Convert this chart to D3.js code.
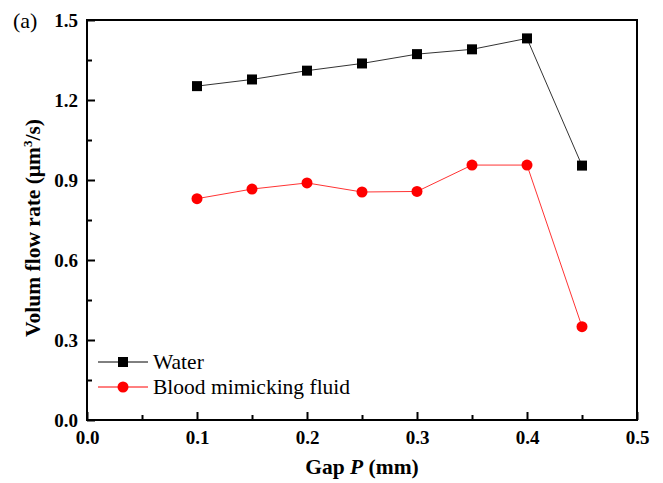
<!DOCTYPE html>
<html>
<head>
<meta charset="utf-8">
<script src="https://cdn.jsdelivr.net/npm/d3@7"></script>
<style>
  body { margin: 0; background: #fff; }
</style>
</head>
<body>
<svg id="chart" width="663" height="483"></svg>
<script>
// ── Data ─────────────────────────────────────────────────────────────
const gap   = [0.10, 0.15, 0.20, 0.25, 0.30, 0.35, 0.40, 0.45];
const water = [1.252, 1.277, 1.310, 1.337, 1.372, 1.390, 1.431, 0.954];
const blood = [0.830, 0.866, 0.889, 0.855, 0.857, 0.956, 0.956, 0.350];
const xTicks = [0.0, 0.1, 0.2, 0.3, 0.4, 0.5];
const yTicks = [0.0, 0.3, 0.6, 0.9, 1.2, 1.5];

const FONT = '"Times New Roman", "Liberation Serif", "DejaVu Serif", serif';

const svg = d3.select('#chart').attr('font-family', FONT);
const L = 87, R = 637, T = 20, B = 420;

const x = d3.scaleLinear().domain([0, 0.5]).range([L, R]);
const y = d3.scaleLinear().domain([0, 1.5]).range([B, T]);

// ── Axes (ticks inward) ──────────────────────────────────────────────
const xAxis = svg.append('g').attr('transform', `translate(0,${B})`)
  .call(d3.axisBottom(x).tickValues(xTicks).tickFormat(d3.format('.1f'))
    .tickSizeInner(-8).tickSizeOuter(0).tickPadding(11));
const xMinor = svg.append('g').attr('transform', `translate(0,${B})`)
  .call(d3.axisBottom(x).tickValues([0.05, 0.15, 0.25, 0.35, 0.45])
    .tickFormat('').tickSizeInner(-5).tickSizeOuter(0));

const yAxis = svg.append('g').attr('transform', `translate(${L},0)`)
  .call(d3.axisLeft(y).tickValues(yTicks).tickFormat(d3.format('.1f'))
    .tickSizeInner(-8).tickSizeOuter(0).tickPadding(9));
const yMinor = svg.append('g').attr('transform', `translate(${L},0)`)
  .call(d3.axisLeft(y).tickValues([0.15, 0.45, 0.75, 1.05, 1.35])
    .tickFormat('').tickSizeInner(-5).tickSizeOuter(0));

[xAxis, xMinor, yAxis, yMinor].forEach(g => {
  g.attr('font-family', FONT).attr('font-size', 19);
  g.select('.domain').remove();
  g.selectAll('line').attr('stroke', '#000').attr('stroke-width', 2);
  g.selectAll('text').attr('font-size', 19).attr('font-weight', 'bold')
    .attr('fill', '#000');
});

// frame
svg.append('rect')
  .attr('x', L).attr('y', T).attr('width', R - L).attr('height', B - T)
  .attr('fill', 'none').attr('stroke', '#000').attr('stroke-width', 2);

// ── Series ──────────────────────────────────────────────────────────
const line = d3.line().x(d => x(d[0])).y(d => y(d[1]));
const wPts = gap.map((g, i) => [g, water[i]]);
const bPts = gap.map((g, i) => [g, blood[i]]);

svg.append('path').datum(wPts).attr('d', line)
  .attr('fill', 'none').attr('stroke', '#333').attr('stroke-width', 1);
svg.append('path').datum(bPts).attr('d', line)
  .attr('fill', 'none').attr('stroke', '#ff3333').attr('stroke-width', 1);

svg.selectAll('.sq').data(wPts).join('rect')
  .attr('x', d => x(d[0]) - 5).attr('y', d => y(d[1]) - 5)
  .attr('width', 10).attr('height', 10).attr('fill', '#000');
svg.selectAll('.ci').data(bPts).join('circle')
  .attr('cx', d => x(d[0])).attr('cy', d => y(d[1]))
  .attr('r', 5.5).attr('fill', '#ff0000');

// ── Legend ──────────────────────────────────────────────────────────
const leg = [
  { label: 'Water', color: '#000', shape: 'sq', y: 362 },
  { label: 'Blood mimicking fluid', color: '#ff0000', shape: 'ci', y: 387 },
];
leg.forEach(d => {
  svg.append('line').attr('x1', 98).attr('x2', 148)
    .attr('y1', d.y).attr('y2', d.y)
    .attr('stroke', d.color).attr('stroke-width', 1);
  if (d.shape === 'sq') {
    svg.append('rect').attr('x', 118).attr('y', d.y - 5)
      .attr('width', 10).attr('height', 10).attr('fill', d.color);
  } else {
    svg.append('circle').attr('cx', 123).attr('cy', d.y).attr('r', 5.5)
      .attr('fill', d.color);
  }
  svg.append('text').attr('x', 153).attr('y', d.y + 7)
    .attr('font-size', 21.5).attr('fill', '#000').text(d.label);
});

// ── Titles ──────────────────────────────────────────────────────────
const xt = svg.append('text').attr('x', 362).attr('y', 474)
  .attr('text-anchor', 'middle').attr('font-size', 21.5)
  .attr('font-weight', 'bold').attr('fill', '#000');
xt.append('tspan').text('Gap ');
xt.append('tspan').attr('font-style', 'italic').text('P');
xt.append('tspan').text(' (mm)');

const yt = svg.append('text')
  .attr('transform', 'translate(40,228) rotate(-90)')
  .attr('text-anchor', 'middle').attr('font-size', 21.5)
  .attr('font-weight', 'bold').attr('fill', '#000');
yt.append('tspan').text('Volum flow rate (μm');
yt.append('tspan').attr('font-size', 13).attr('dy', -8).text('3');
yt.append('tspan').attr('dy', 8).text('/s)');

svg.append('text').attr('x', 13).attr('y', 28)
  .attr('font-size', 22).attr('fill', '#000').text('(a)');
</script>
</body>
</html>
